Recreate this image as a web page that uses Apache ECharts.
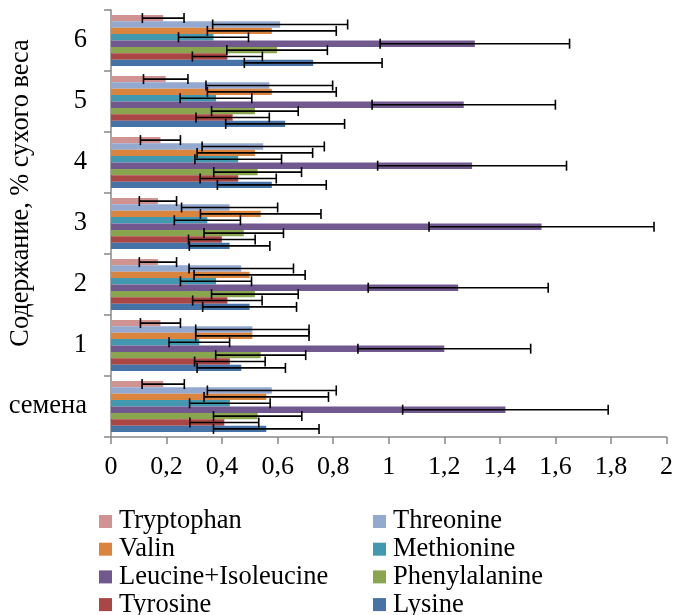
<!DOCTYPE html>
<html>
<head>
<meta charset="utf-8">
<script src="https://cdn.jsdelivr.net/npm/echarts@6/dist/echarts.min.js"></script>
<style>html,body{margin:0;padding:0;background:#fff;}#c{width:676px;height:615px;}</style>
</head>
<body>
<div id="c"></div>
<script>
var categories = ['семена', '1', '2', '3', '4', '5', '6'];
var xTicks = ['0', '0,2', '0,4', '0,6', '0,8', '1', '1,2', '1,4', '1,6', '1,8', '2'];
var seriesNames = ['Tryptophan', 'Threonine', 'Valin', 'Methionine', 'Leucine+Isoleucine', 'Phenylalanine', 'Tyrosine', 'Lysine'];
var seriesColors = ['#D19392', '#93A9CF', '#DB843D', '#4198AF', '#71588F', '#89A54E', '#AA4643', '#4572A7'];

var tryptophan = [0.188, 0.178, 0.169, 0.169, 0.178, 0.197, 0.188];
var threonine  = [0.579, 0.509, 0.469, 0.427, 0.548, 0.570, 0.609];
var valin      = [0.559, 0.509, 0.499, 0.539, 0.518, 0.579, 0.579];
var methionine = [0.428, 0.318, 0.378, 0.347, 0.458, 0.378, 0.369];
var leucine    = [1.42, 1.20, 1.25, 1.55, 1.30, 1.27, 1.31];
var phenyl     = [0.528, 0.539, 0.518, 0.478, 0.528, 0.518, 0.598];
var tyrosine   = [0.408, 0.428, 0.419, 0.399, 0.458, 0.438, 0.419];
var lysine     = [0.559, 0.469, 0.499, 0.427, 0.579, 0.627, 0.728];

var tryptophanErr = [0.076, 0.072, 0.067, 0.067, 0.072, 0.080, 0.075];
var threonineErr  = [0.232, 0.204, 0.188, 0.173, 0.220, 0.228, 0.243];
var valinErr      = [0.224, 0.204, 0.200, 0.217, 0.208, 0.232, 0.232];
var methionineErr = [0.145, 0.109, 0.128, 0.119, 0.156, 0.129, 0.126];
var leucineErr    = [0.370, 0.311, 0.324, 0.405, 0.340, 0.330, 0.341];
var phenylErr     = [0.159, 0.162, 0.156, 0.143, 0.158, 0.156, 0.181];
var tyrosineErr   = [0.124, 0.127, 0.125, 0.120, 0.137, 0.132, 0.126];
var lysineErr     = [0.190, 0.159, 0.169, 0.145, 0.196, 0.214, 0.248];

var values = [tryptophan, threonine, valin, methionine, leucine, phenyl, tyrosine, lysine];
var errors = [tryptophanErr, threonineErr, valinErr, methionineErr, leucineErr, phenylErr, tyrosineErr, lysineErr];

var FONT = '"Liberation Serif", "Times New Roman", serif';
var catGap = 0.16;
var nS = seriesNames.length;

var series = seriesNames.map(function (name, i) {
  return {
    name: name,
    type: 'bar',
    data: values[i],
    barGap: '0%',
    barCategoryGap: (catGap * 100) + '%',
    itemStyle: { color: seriesColors[i] },
    z: 2,
    silent: true
  };
});

var errData = [];
for (var s = 0; s < nS; s++) {
  for (var c = 0; c < categories.length; c++) {
    errData.push([values[s][c], c, s, errors[s][c]]);
  }
}

series.push({
  type: 'custom',
  name: 'err',
  z: 5,
  silent: true,
  data: errData,
  encode: { x: 0, y: 1 },
  renderItem: function (params, api) {
    var v = api.value(0), c = api.value(1), s = api.value(2), e = api.value(3);
    var center = api.coord([v, c]);
    var band = api.size([0, 1])[1];
    var total = band * (1 - catGap);
    var bw = total / nS;
    var y = center[1] - total / 2 + (s + 0.5) * bw;
    var x0 = api.coord([v - e, c])[0];
    var x1 = api.coord([v + e, c])[0];
    var h = 5;
    var st = { stroke: '#000', lineWidth: 1.6 };
    return {
      type: 'group',
      children: [
        { type: 'line', shape: { x1: x0, y1: y, x2: x1, y2: y }, style: st },
        { type: 'line', shape: { x1: x0, y1: y - h, x2: x0, y2: y + h }, style: st },
        { type: 'line', shape: { x1: x1, y1: y - h, x2: x1, y2: y + h }, style: st }
      ]
    };
  }
});

var leftNames = [seriesNames[0], seriesNames[2], seriesNames[4], seriesNames[6]];
var rightNames = [seriesNames[1], seriesNames[3], seriesNames[5], seriesNames[7]];
var legendCommon = {
  orient: 'vertical',
  top: 508,
  height: 112,
  padding: 0,
  itemWidth: 13,
  itemHeight: 13,
  itemGap: 0.7,
  icon: 'rect',
  selectedMode: false,
  textStyle: { fontFamily: FONT, fontSize: 26.5, color: '#000', padding: [0, 0, 0, 2] }
};

var option = {
  animation: false,
  backgroundColor: '#fff',
  grid: { left: 111, right: 8, top: 10, bottom: 178, containLabel: false },
  legend: [
    Object.assign({}, legendCommon, { left: 99, data: leftNames }),
    Object.assign({}, legendCommon, { left: 373, data: rightNames })
  ],
  xAxis: {
    type: 'value',
    min: 0, max: 2, interval: 0.2,
    splitLine: { show: false },
    axisLine: { show: true, lineStyle: { color: '#888', width: 1.5 } },
    axisTick: { show: true, length: 7, lineStyle: { color: '#888', width: 1.5 } },
    axisLabel: {
      margin: 17,
      fontFamily: FONT, fontSize: 26, color: '#000',
      formatter: function (v) { return xTicks[Math.round(v / 0.2)]; }
    }
  },
  yAxis: {
    type: 'category',
    data: categories,
    axisLine: { show: true, lineStyle: { color: '#888', width: 1.5 } },
    axisTick: { show: true, length: 7, alignWithLabel: false, lineStyle: { color: '#888', width: 1.5 } },
    axisLabel: { margin: 24, fontFamily: FONT, fontSize: 26.5, color: '#000' }
  },
  graphic: [{
    type: 'text',
    x: 21, y: 193,
    rotation: Math.PI / 2,
    style: {
      text: 'Содержание, % сухого веса',
      font: '26.3px ' + FONT,
      fill: '#000',
      textAlign: 'center',
      textVerticalAlign: 'middle'
    }
  }],
  series: series
};

var chart = echarts.init(document.getElementById('c'), null, { renderer: 'canvas' });
chart.setOption(option);
</script>
</body>
</html>
